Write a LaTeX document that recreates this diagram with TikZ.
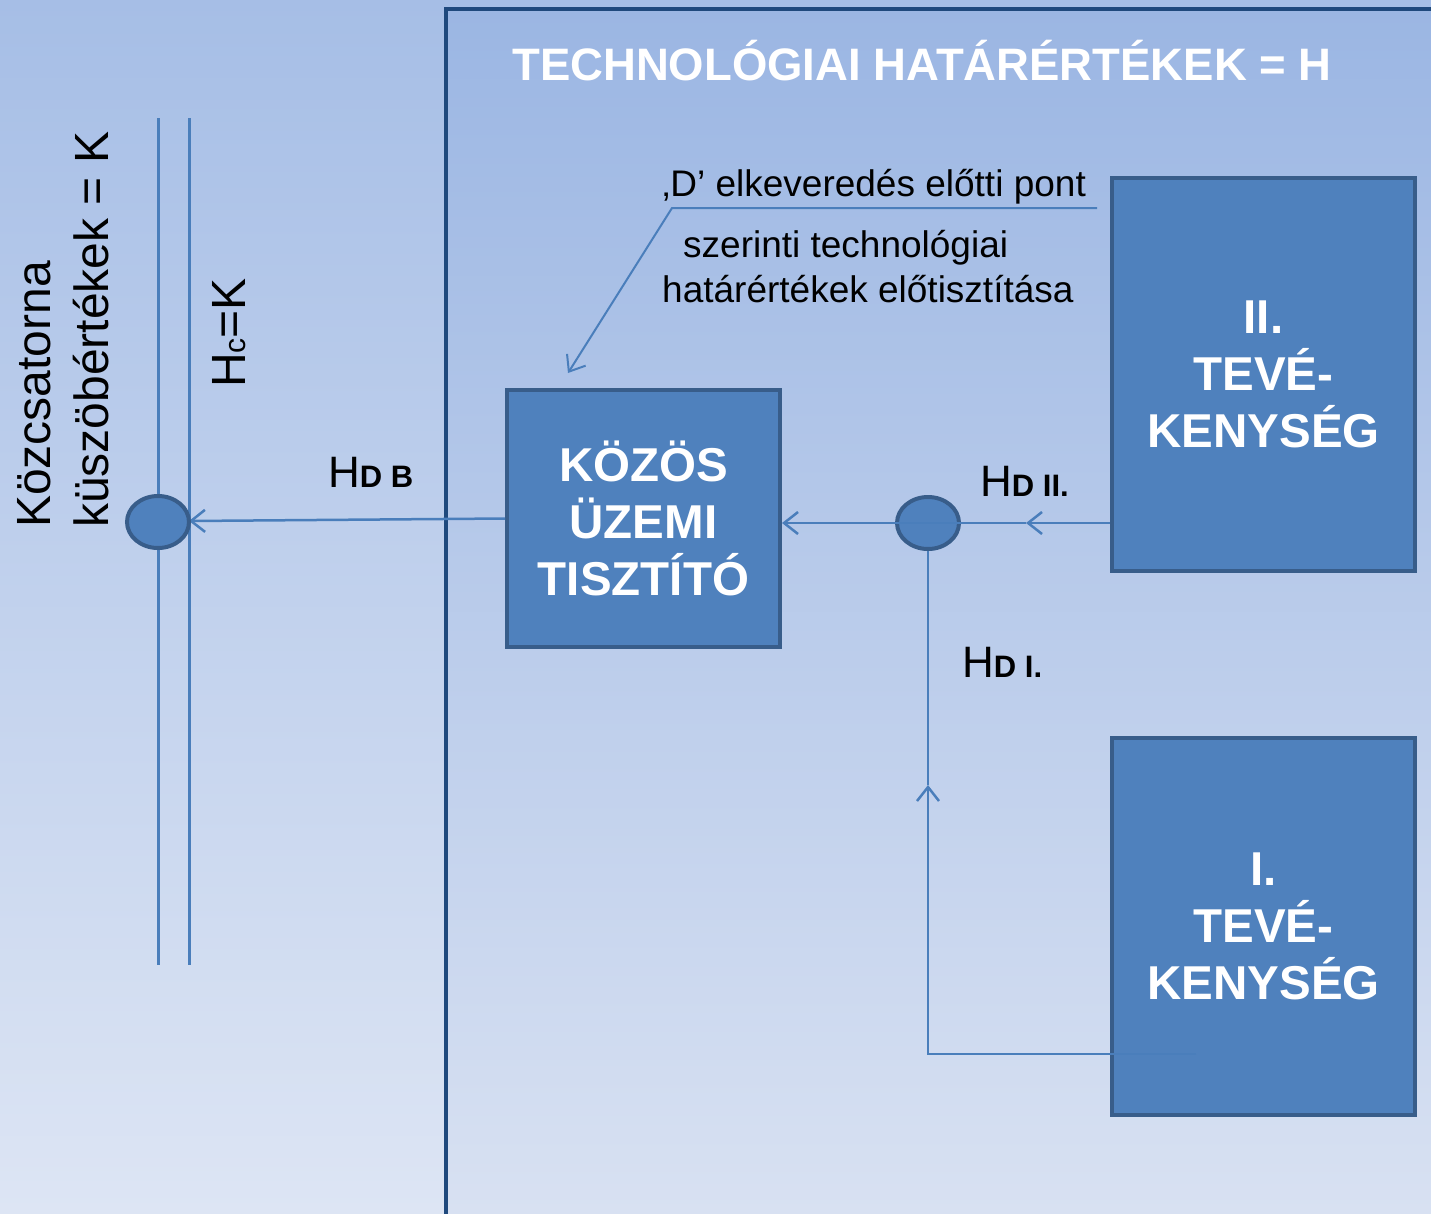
\documentclass[tikz,border=0pt]{standalone}
\usepackage{fontspec}
\setmainfont{Liberation Sans}
\usetikzlibrary{arrows.meta,shapes.geometric}
\definecolor{boxfill}{RGB}{79,129,189}
\definecolor{boxedge}{RGB}{56,93,138}
\definecolor{framec}{RGB}{31,73,125}
\definecolor{linec}{RGB}{74,126,187}
\definecolor{bgtop}{RGB}{166,190,230}
\definecolor{bgbot}{RGB}{221,229,244}
\definecolor{intop}{RGB}{155,182,227}
\definecolor{inbot}{RGB}{216,225,242}
\tikzset{
  blockbox/.style={draw=boxedge,fill=boxfill,line width=4pt,text=white,
    font=\fontsize{47.5}{57}\selectfont\bfseries,align=center,inner sep=0pt},
  dot/.style={ellipse,draw=boxedge,fill=boxfill,line width=4pt,
    minimum width=62pt,minimum height=52pt,inner sep=0pt},
  flow/.style={draw=linec,line width=2.5pt},
  tip/.style={-{Straight Barb[length=14pt,width=22pt]}},
  vtext/.style={rotate=90,anchor=base west,inner sep=0pt,font=\fontsize{48}{48}\selectfont},
  hlabel/.style={anchor=base west,inner sep=0pt,font=\fontsize{44}{44}\selectfont},
  note/.style={anchor=base west,inner sep=0pt,font=\fontsize{37}{37}\selectfont}
}
\newcommand{\smb}[1]{{\fontsize{31}{31}\selectfont\bfseries #1}}
\begin{document}
\begin{tikzpicture}[x=1pt,y=-1pt]
\useasboundingbox (0,0) rectangle (1431,1213);
\shade[top color=bgtop,bottom color=bgbot] (0,0) rectangle (1431,1213);
\shade[top color=intop,bottom color=inbot] (446,9) rectangle (1431,1213);
\draw[framec,line width=4pt] (446,1216) -- (446,9) -- (1434,9);

\node[anchor=base,inner sep=0pt,text=white,font=\fontsize{45.5}{45.5}\selectfont\bfseries] (title) at (922,80) {TECHNOLÓGIAI HATÁRÉRTÉKEK = H};

% channel
\coordinate (l1a) at (158,118);
\coordinate (l1b) at (158,965);
\coordinate (l2a) at (189,118);
\coordinate (l2b) at (189,965);
\draw[linec,line width=3pt] (l1a) -- (l1b);
\draw[linec,line width=3pt] (l2a) -- (l2b);

\node[vtext] (kt1) at (50,528) {Közcsatorna};
\node[vtext] (kt2) at (108,528) {küszöbértékek = K};
\node[vtext] (hc) at (245,388) {H{\fontsize{30}{30}\selectfont c}=K};

% boxes
\node[blockbox,minimum width=273pt,minimum height=257pt] (kozos) at (643.5,518.5) {KÖZÖS\\ÜZEMI\\TISZTÍTÓ};
\node[blockbox,minimum width=303pt,minimum height=393pt] (t2) at (1263.5,374.5) {II.\\TEVÉ-\\KENYSÉG};
\node[blockbox,minimum width=303pt,minimum height=377pt] (t1) at (1263.5,926.5) {I.\\TEVÉ-\\KENYSÉG};

% connectors
\coordinate (k1) at (189,521);
\draw[flow,tip] (kozos.west) -- (k1);

\node[dot] (c2) at (928,523) {};
\coordinate (b1) at (928,1054);
\coordinate (e1) at (1196,1054);
\coordinate (m1) at (928,785);
\draw[flow,tip] (e1) -- (b1) -- (m1);
\draw[flow] (m1) -- (c2.south);
\coordinate (m2) at (1026,523);
\draw[flow,tip] (t2.west |- c2) -- (m2);
\draw[flow,tip] (m2) -- (kozos.east |- c2);

\node[dot] (c1) at (158,522) {};

% labels
\node[hlabel] (hdb) at (328,487) {H\smb{D B}};
\node[hlabel] (hd2) at (980,496) {H\smb{D II.}};
\node[hlabel] (hd1) at (962,677) {H\smb{D I.}};

% annotation
\node[note] (n1) at (662,196) {‚D’ elkeveredés előtti pont};
\node[note] (n2) at (683,257) {szerinti technológiai};
\node[note] (n3) at (662,302) {határértékek előtisztítása};
\coordinate (u1) at (1097,208);
\coordinate (u0) at (672,208);
\coordinate (atip) at (568,373);
\draw[linec,line width=2pt,tip] (u1) -- (u0) -- (atip);
\end{tikzpicture}
\end{document}
